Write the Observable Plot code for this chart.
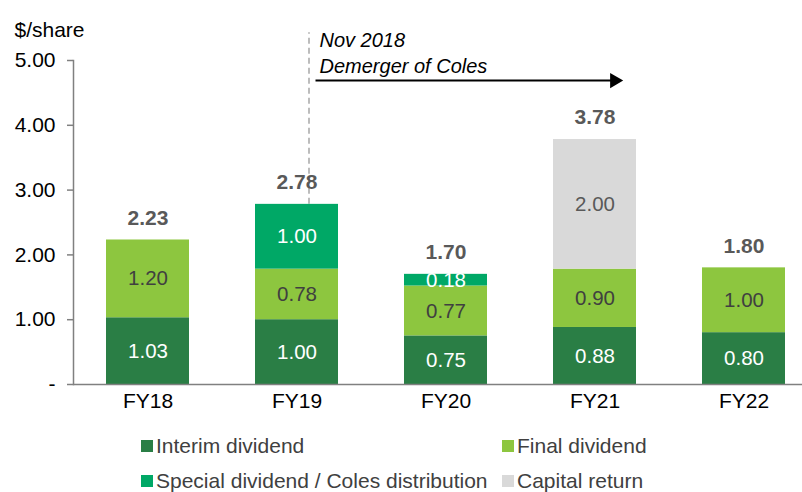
<!DOCTYPE html>
<html><head><meta charset="utf-8">
<script src="https://cdn.jsdelivr.net/npm/d3@7"></script>
<script src="https://cdn.jsdelivr.net/npm/@observablehq/plot@0.6"></script>
<style>
body{margin:0;background:#fff;font-family:"Liberation Sans",Arial,sans-serif;}
#chart{width:802px;height:492px;position:relative;overflow:hidden;}
#legend{display:grid;grid-template-columns:361px auto;padding-left:141px;padding-top:8px;font-size:21px;color:#404040;}
#legend .item{display:flex;align-items:center;height:35px;line-height:35px;white-space:nowrap;}
#legend .sw{width:12px;height:12px;margin-right:3px;flex:none;}
</style></head>
<body><div id="chart"></div>
<script>
const years = ["FY18","FY19","FY20","FY21","FY22"];
const seriesNames = ["Interim dividend","Final dividend","Special dividend / Coles distribution","Capital return"];
const interim = [1.03,1.00,0.75,0.88,0.80];
const finalDiv = [1.20,0.78,0.77,0.90,1.00];
const special = [0,1.00,0.18,0,0];
const capital = [0,0,0,2.00,0];
const totals = [2.23,2.78,1.70,3.78,1.80];
const yTicks = [0,1,2,3,4,5];
const seriesColors = ["#2a7e45","#8dc63f","#00a866","#d9d9d9"];
const labelColors = ["#ffffff","#404040","#ffffff","#595959"];
// annotation (data units)
const demergerYear = "FY19";
const arrowEndYear = "FY21";
const annoText = [{t:"Nov 2018", y:5.31},{t:"Demerger of Coles", y:4.91}];
const arrowY = 4.69;
const dashTop = 5.43;

const seriesValues = [interim, finalDiv, special, capital];
const rows = [];
years.forEach((yr, i) => {
  seriesValues.forEach((vals, k) => {
    if (vals[i] > 0) rows.push({year: yr, series: seriesNames[k], k, value: vals[i]});
  });
});
const totalRows = years.map((yr, i) => ({year: yr, total: totals[i]}));

const chart = Plot.plot({
  width: 802,
  height: 420,
  marginTop: 60,
  marginBottom: 36,
  marginLeft: 73,
  marginRight: 0,
  style: {fontFamily: "Liberation Sans, Arial, sans-serif", fontSize: "21px", background: "#fff"},
  x: {domain: years, range: [73, 818], paddingInner: 0.443, paddingOuter: 0.2215, axis: null},
  y: {domain: [0, 5], axis: null},
  color: {type: "identity"},
  marks: [
    Plot.ruleX([{x: demergerYear, y1: totals[1], y2: dashTop}], {x: "x", y1: "y1", y2: "y2", dx: 12, stroke: "#a6a6a6", strokeWidth: 1.5, strokeDasharray: "6,4"}),
    Plot.barY(rows, Plot.stackY({x: "year", y: "value", z: "series", fill: d => seriesColors[d.k]})),
    Plot.text(rows, Plot.stackY({x: "year", y: "value", z: "series", text: d => d.value.toFixed(2), fill: d => labelColors[d.k], fontSize: 20.5})),
    Plot.text(totalRows, {x: "year", y: "total", text: d => d.total.toFixed(2), dy: -22, fontWeight: "bold", fill: "#595959", fontSize: 21}),
    Plot.frame({anchor: "left", stroke: "#808080", strokeWidth: 1.5}),
    Plot.ruleY([0], {stroke: "#808080", strokeWidth: 1.5}),
    Plot.axisY({ticks: yTicks, tickFormat: d => d === 0 ? "-" : d.toFixed(2), tickSize: 6, tickPadding: 12, stroke: "#808080", strokeWidth: 1.5, fill: "#000", fontSize: 21, label: null}),
    Plot.axisX({tickSize: 0, tickPadding: 9, fill: "#000", fontSize: 21, label: null}),
    Plot.text(["$/share"], {frameAnchor: "top-left", dx: -59, dy: -38, textAnchor: "start", fill: "#000", fontSize: 21}),
    Plot.text(annoText, {x: () => demergerYear, y: "y", text: "t", dx: 22.5, textAnchor: "start", fontStyle: "italic", fill: "#000", fontSize: 20}),
    Plot.link([{x1: demergerYear, x2: arrowEndYear, y: arrowY}], {x1: "x1", x2: "x2", y1: "y", y2: "y", dx: 18.5, stroke: "#000", strokeWidth: 2}),
    Plot.dot([{x: arrowEndYear, y: arrowY}], {x: "x", y: "y", symbol: "triangle", r: 5.6, rotate: 90, fill: "#000", stroke: "none", dx: 19.5})
  ]
});
const root = document.getElementById("chart");
root.appendChild(chart);
const legend = document.createElement("div");
legend.id = "legend";
seriesNames.forEach((name, k) => {
  const it = document.createElement("div");
  it.className = "item";
  const sw = document.createElement("span");
  sw.className = "sw";
  sw.style.background = seriesColors[k];
  it.appendChild(sw);
  it.appendChild(document.createTextNode(name));
  legend.appendChild(it);
});
root.appendChild(legend);
</script></body></html>
